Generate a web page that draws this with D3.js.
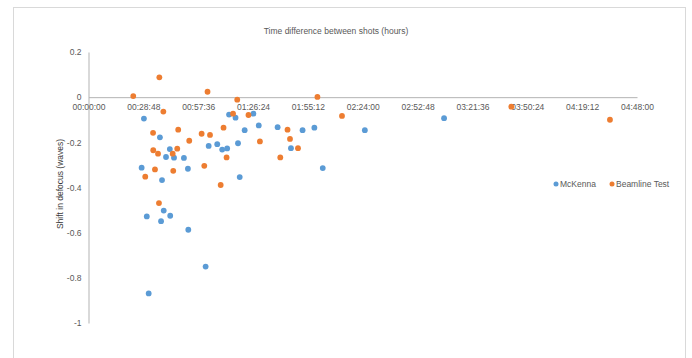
<!DOCTYPE html>
<html>
<head>
<meta charset="utf-8">
<script src="https://cdn.jsdelivr.net/npm/d3@7"></script>
<style>
  html, body { margin: 0; padding: 0; background: #fff; }
  svg { display: block; font-family: "Liberation Sans", Arial, sans-serif; }
</style>
</head>
<body>
<svg id="chart" width="692" height="358"></svg>
<script>
// Elapsed time between shots (minutes) and shift in defocus (waves)
const mckennaTime = [29.1, 37.5, 42.7, 40.7, 44.9, 50.1, 52.2, 27.9, 38.6, 63.1, 67.6, 70.2, 72.8,
  73.8, 77.2, 86.6, 82.0, 78.5, 79.4, 89.4, 99.3, 106.3, 112.4, 118.6, 145.1, 123.0, 186.7,
  39.5, 42.9, 30.6, 38.1, 52.4, 61.5, 31.6];
const mckennaShift = [-0.095, -0.178, -0.230, -0.265, -0.268, -0.269, -0.317, -0.312, -0.367, -0.216, -0.208, -0.232, -0.227,
  -0.077, -0.091, -0.073, -0.146, -0.204, -0.354, -0.125, -0.133, -0.226, -0.146, -0.135, -0.146, -0.314, -0.093,
  -0.502, -0.525, -0.528, -0.549, -0.587, -0.750, -0.869];

const beamlineTime = [23.5, 37.2, 62.5, 78.1, 39.3, 75.9, 84.0, 33.9, 47.1, 59.4, 63.8, 70.9, 52.9,
  90.0, 34.0, 36.5, 44.2, 46.6, 72.5, 34.9, 44.5, 60.8, 29.8, 69.4, 100.7, 104.5, 105.8, 110.0,
  37.0, 120.2, 133.1, 222.0, 273.8];
const beamlineShift = [0.005, 0.088, 0.024, -0.011, -0.064, -0.073, -0.079, -0.158, -0.144, -0.162, -0.167, -0.135, -0.193,
  -0.196, -0.235, -0.250, -0.250, -0.228, -0.267, -0.320, -0.326, -0.304, -0.352, -0.389, -0.267, -0.144, -0.185, -0.226,
  -0.469, 0.001, -0.083, -0.042, -0.100];

const seriesNames = ["McKenna", "Beamline Test"];
const seriesColors = ["#5b9bd5", "#ed7d31"];

// Axis ticks: time in minutes (labelled hh:mm:ss) and defocus in waves
const xTicks = [0, 28.8, 57.6, 86.4, 115.2, 144, 172.8, 201.6, 230.4, 259.2, 288];
const xTickLabels = ["00:00:00", "00:28:48", "00:57:36", "01:26:24", "01:55:12", "02:24:00",
  "02:52:48", "03:21:36", "03:50:24", "04:19:12", "04:48:00"];
const yTicks = [0.2, 0, -0.2, -0.4, -0.6, -0.8, -1];
const yTickLabels = ["0.2", "0", "-0.2", "-0.4", "-0.6", "-0.8", "-1"];

const svg = d3.select("#chart");
const textColor = "#595959";
const axisColor = "#b3b3b3";
const fontSize = 8.5;

// Chart frame
svg.append("rect")
  .attr("x", 13.5).attr("y", 7.5)
  .attr("width", 672).attr("height", 360)
  .attr("fill", "#fff").attr("stroke", "#d9d9d9");

const x = d3.scaleLinear().domain([0, 288]).range([88.5, 637]);
const y = d3.scaleLinear().domain([-1, 0.2]).range([323, 52]);

// Vertical axis
const yAxis = svg.append("g")
  .attr("transform", `translate(${x(0)},0)`)
  .call(d3.axisLeft(y).tickValues(yTicks).tickSize(0).tickPadding(7)
    .tickFormat((d, i) => yTickLabels[i]));
yAxis.select(".domain").attr("stroke", axisColor);
yAxis.selectAll("text").attr("fill", textColor).attr("font-size", fontSize)
  .attr("font-family", "Liberation Sans, Arial, sans-serif");

// Horizontal axis sits on the zero line
const xAxis = svg.append("g")
  .attr("transform", `translate(0,${y(0)})`)
  .call(d3.axisBottom(x).tickValues(xTicks).tickSize(0).tickPadding(7)
    .tickFormat((d, i) => xTickLabels[i]));
xAxis.select(".domain").attr("stroke", axisColor);
xAxis.selectAll("text").attr("fill", textColor).attr("font-size", fontSize)
  .attr("font-family", "Liberation Sans, Arial, sans-serif");

// Titles
svg.append("text")
  .attr("x", 336).attr("y", 34)
  .attr("text-anchor", "middle")
  .attr("font-size", fontSize).attr("fill", textColor)
  .text("Time difference between shots (hours)");

svg.append("text")
  .attr("transform", "translate(63,184) rotate(-90)")
  .attr("text-anchor", "middle")
  .attr("font-size", fontSize).attr("fill", "#3a3a3a")
  .text("Shift in defocus (waves)");

// Points
const series = [
  { t: mckennaTime, v: mckennaShift },
  { t: beamlineTime, v: beamlineShift }
];
series.forEach((s, k) => {
  svg.append("g").selectAll("circle")
    .data(s.t.map((t, i) => [t, s.v[i]]))
    .join("circle")
    .attr("cx", d => x(d[0]))
    .attr("cy", d => y(d[1]))
    .attr("r", 2.9)
    .attr("fill", seriesColors[k]);
});

// Legend
const legendX = [556, 612];
seriesNames.forEach((name, k) => {
  const g = svg.append("g").attr("transform", `translate(${legendX[k]},184)`);
  g.append("circle").attr("r", 2.5).attr("fill", seriesColors[k]);
  g.append("text").attr("x", 4).attr("y", 3)
    .attr("font-size", fontSize).attr("fill", textColor).text(name);
});
</script>
</body>
</html>
